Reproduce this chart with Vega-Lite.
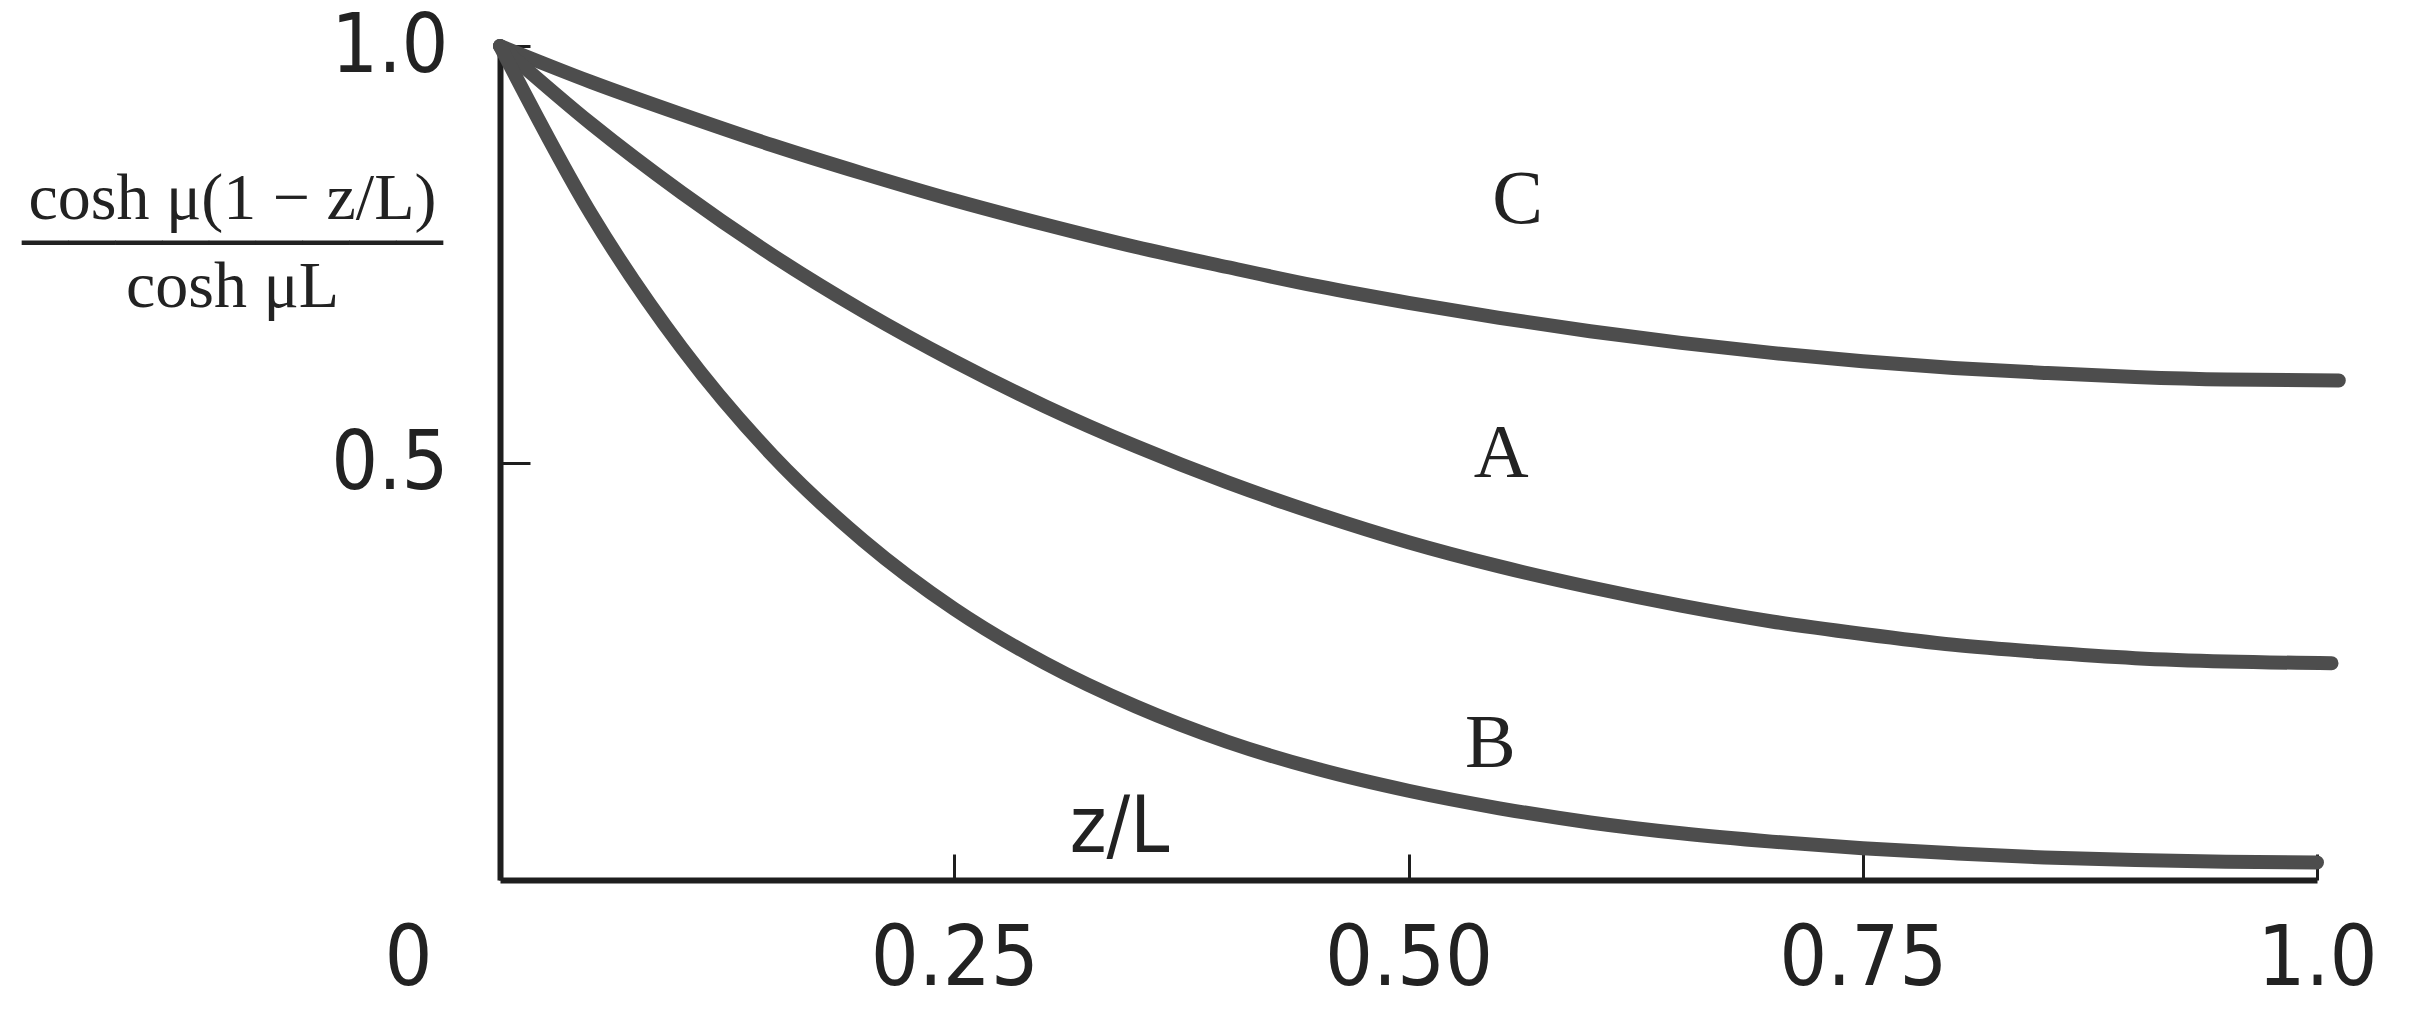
{
  "$schema": "https://vega.github.io/schema/vega-lite/v6.json",
  "width": 1817,
  "height": 834,
  "autosize": {"type": "none"},
  "padding": {"left": 500, "top": 46, "right": 97, "bottom": 140},
  "background": "white",
  "config": {"view": {"stroke": null}},
  "datasets": {
    "curves": [
      {"curve": "C", "z": 0, "v": 1.0},
      {"curve": "C", "z": 0.05, "v": 0.957},
      {"curve": "C", "z": 0.1, "v": 0.918},
      {"curve": "C", "z": 0.15, "v": 0.881},
      {"curve": "C", "z": 0.2, "v": 0.847},
      {"curve": "C", "z": 0.25, "v": 0.815},
      {"curve": "C", "z": 0.3, "v": 0.786},
      {"curve": "C", "z": 0.35, "v": 0.759},
      {"curve": "C", "z": 0.4, "v": 0.735},
      {"curve": "C", "z": 0.45, "v": 0.712},
      {"curve": "C", "z": 0.5, "v": 0.692},
      {"curve": "C", "z": 0.55, "v": 0.674},
      {"curve": "C", "z": 0.6, "v": 0.658},
      {"curve": "C", "z": 0.65, "v": 0.644},
      {"curve": "C", "z": 0.7, "v": 0.632},
      {"curve": "C", "z": 0.75, "v": 0.622},
      {"curve": "C", "z": 0.8, "v": 0.614},
      {"curve": "C", "z": 0.85, "v": 0.608},
      {"curve": "C", "z": 0.9, "v": 0.603},
      {"curve": "C", "z": 0.95, "v": 0.600},
      {"curve": "C", "z": 1.012, "v": 0.599},
      {"curve": "A", "z": 0, "v": 1.0},
      {"curve": "A", "z": 0.05, "v": 0.907},
      {"curve": "A", "z": 0.1, "v": 0.824},
      {"curve": "A", "z": 0.15, "v": 0.749},
      {"curve": "A", "z": 0.2, "v": 0.682},
      {"curve": "A", "z": 0.25, "v": 0.622},
      {"curve": "A", "z": 0.3, "v": 0.568},
      {"curve": "A", "z": 0.35, "v": 0.520},
      {"curve": "A", "z": 0.4, "v": 0.477},
      {"curve": "A", "z": 0.45, "v": 0.439},
      {"curve": "A", "z": 0.5, "v": 0.405},
      {"curve": "A", "z": 0.55, "v": 0.376},
      {"curve": "A", "z": 0.6, "v": 0.351},
      {"curve": "A", "z": 0.65, "v": 0.329},
      {"curve": "A", "z": 0.7, "v": 0.310},
      {"curve": "A", "z": 0.75, "v": 0.295},
      {"curve": "A", "z": 0.8, "v": 0.282},
      {"curve": "A", "z": 0.85, "v": 0.273},
      {"curve": "A", "z": 0.9, "v": 0.266},
      {"curve": "A", "z": 0.95, "v": 0.262},
      {"curve": "A", "z": 1.008, "v": 0.260},
      {"curve": "B", "z": 0, "v": 1.0},
      {"curve": "B", "z": 0.05, "v": 0.799},
      {"curve": "B", "z": 0.1, "v": 0.638},
      {"curve": "B", "z": 0.15, "v": 0.509},
      {"curve": "B", "z": 0.2, "v": 0.407},
      {"curve": "B", "z": 0.25, "v": 0.325},
      {"curve": "B", "z": 0.3, "v": 0.260},
      {"curve": "B", "z": 0.35, "v": 0.208},
      {"curve": "B", "z": 0.4, "v": 0.166},
      {"curve": "B", "z": 0.45, "v": 0.133},
      {"curve": "B", "z": 0.5, "v": 0.107},
      {"curve": "B", "z": 0.55, "v": 0.086},
      {"curve": "B", "z": 0.6, "v": 0.069},
      {"curve": "B", "z": 0.65, "v": 0.056},
      {"curve": "B", "z": 0.7, "v": 0.046},
      {"curve": "B", "z": 0.75, "v": 0.038},
      {"curve": "B", "z": 0.8, "v": 0.032},
      {"curve": "B", "z": 0.85, "v": 0.027},
      {"curve": "B", "z": 0.9, "v": 0.024},
      {"curve": "B", "z": 0.95, "v": 0.022},
      {"curve": "B", "z": 1.0, "v": 0.021}
    ],
    "labels": [
      {"label": "C", "z": 0.56, "v": 0.815},
      {"label": "A", "z": 0.551, "v": 0.511},
      {"label": "B", "z": 0.545, "v": 0.163}
    ]
  },
  "layer": [
    {
      "data": {"name": "curves"},
      "mark": {"type": "line", "color": "#4d4d4d", "strokeWidth": 14, "strokeCap": "round", "strokeJoin": "round", "interpolate": "monotone"},
      "encoding": {
        "x": {
          "field": "z", "type": "quantitative",
          "scale": {"domain": [0, 1], "nice": false, "zero": false},
          "axis": {
            "values": [0, 0.25, 0.5, 0.75, 1],
            "labelExpr": "datum.value == 0 ? '0' : datum.value == 1 ? '1.0' : format(datum.value, '.2f')",
            "grid": false,
            "domainColor": "#1e1e1e", "domainWidth": 6,
            "tickColor": "#1e1e1e", "tickWidth": 3, "tickSize": -26,
            "labelFlush": false, "labelOverlap": false,
            "labelFont": "DejaVu Sans Condensed, sans-serif",
            "labelFontSize": 84, "labelColor": "#222222",
            "labelPadding": 64,
            "labelOffset": {"condition": {"test": "datum.value == 0", "value": -92}, "value": 0},
            "title": "z/L",
            "titleFont": "DejaVu Sans Condensed, sans-serif",
            "titleFontSize": 78, "titleFontWeight": "normal", "titleColor": "#222222",
            "titleAlign": "center", "titleBaseline": "middle", "titleAnchor": null,
            "titleX": 619, "titleY": -52
          }
        },
        "y": {
          "field": "v", "type": "quantitative",
          "scale": {"domain": [0, 1], "nice": false},
          "axis": {
            "values": [0.5, 1],
            "labelExpr": "format(datum.value, '.1f')",
            "grid": false,
            "domainColor": "#1e1e1e", "domainWidth": 6,
            "tickColor": "#1e1e1e", "tickWidth": 3, "tickSize": -30,
            "labelFlush": false, "labelOverlap": false,
            "labelFont": "DejaVu Sans Condensed, sans-serif",
            "labelFontSize": 82, "labelColor": "#222222",
            "labelPadding": 82, "labelBaseline": "middle",
            "title": ["cosh μ(1 − z/L)", "─────────", "cosh μL"],
            "titleFont": "Liberation Serif, DejaVu Serif, serif",
            "titleFontSize": 66, "titleFontWeight": "normal", "titleColor": "#222222",
            "titleAngle": 0, "titleAlign": "center", "titleBaseline": "middle",
            "titleLineHeight": 44, "titleAnchor": null,
            "titleX": -268, "titleY": 152
          }
        },
        "detail": {"field": "curve"}
      }
    },
    {
      "data": {"name": "labels"},
      "mark": {"type": "text", "font": "Liberation Serif, DejaVu Serif, serif", "fontSize": 76, "color": "#222222", "align": "center", "baseline": "middle"},
      "encoding": {
        "x": {"field": "z", "type": "quantitative"},
        "y": {"field": "v", "type": "quantitative"},
        "text": {"field": "label"}
      }
    }
  ]
}
